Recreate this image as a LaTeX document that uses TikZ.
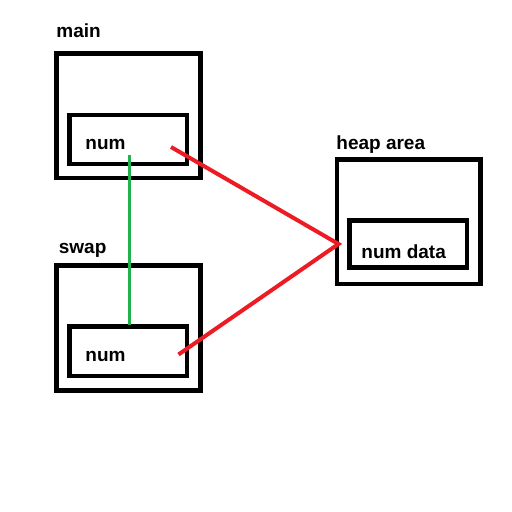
\documentclass[tikz,border=0pt]{standalone}
\usepackage{fontspec}
\setmainfont{Liberation Sans}
\usetikzlibrary{positioning}
\definecolor{paintred}{RGB}{237,28,36}
\definecolor{paintgreen}{RGB}{34,177,76}

\begin{document}
\begin{tikzpicture}[x=0.5pt,y=-0.5pt]
\tikzstyle{every node}+=[inner sep=0pt]
\tikzstyle{box}=[draw=black, line width=2.3pt, rectangle]
\tikzstyle{lbl}=[anchor=base west, font=\fontsize{9.5pt}{11pt}\selectfont\bfseries]
\useasboundingbox [fill=white] (0,0) rectangle (512,512);
% main frame
\node [box, minimum width=72pt, minimum height=62.25pt] (mainbox) at (128.5,115.75) {};
\node [box, minimum width=58.75pt, minimum height=24.5pt] (mainvar) at (128.25,139.5) {};
\node [lbl] (mainlbl) at (56,37.5) {main};
\node [lbl] (mainnum) at (85,149.3) {num};
% swap frame
\node [box, minimum width=72pt, minimum height=62.3pt] (swapbox) at (128.5,328) {};
\node [box, minimum width=58.65pt, minimum height=24.65pt] (swapvar) at (128.35,351.35) {};
\node [lbl] (swaplbl) at (58.5,254) {swap};
\node [lbl] (swapnum) at (85,361.7) {num};
% heap
\node [box, minimum width=71.65pt, minimum height=62.15pt] (heapbox) at (408.65,221.85) {};
\node [box, minimum width=58.65pt, minimum height=23.3pt] (heapdata) at (408.35,244) {};
\node [lbl] (heaplbl) at (336,149.5) {heap area};
\node [lbl] (heapnum) at (361,258.3) {num data};
% references
\coordinate (mainref) at (171,147);
\coordinate (swapref) at (178.5,354.5);
\coordinate (heaptip) at (338.5,244);
\coordinate (greentop) at (129,155);
\coordinate (greenbot) at (129,325);
\draw [paintgreen, line width=1.5pt] (greentop) -- (greenbot);
\draw [paintred, line width=2pt, line join=miter] (mainref) -- (heaptip) -- (swapref);
\end{tikzpicture}
\end{document}
